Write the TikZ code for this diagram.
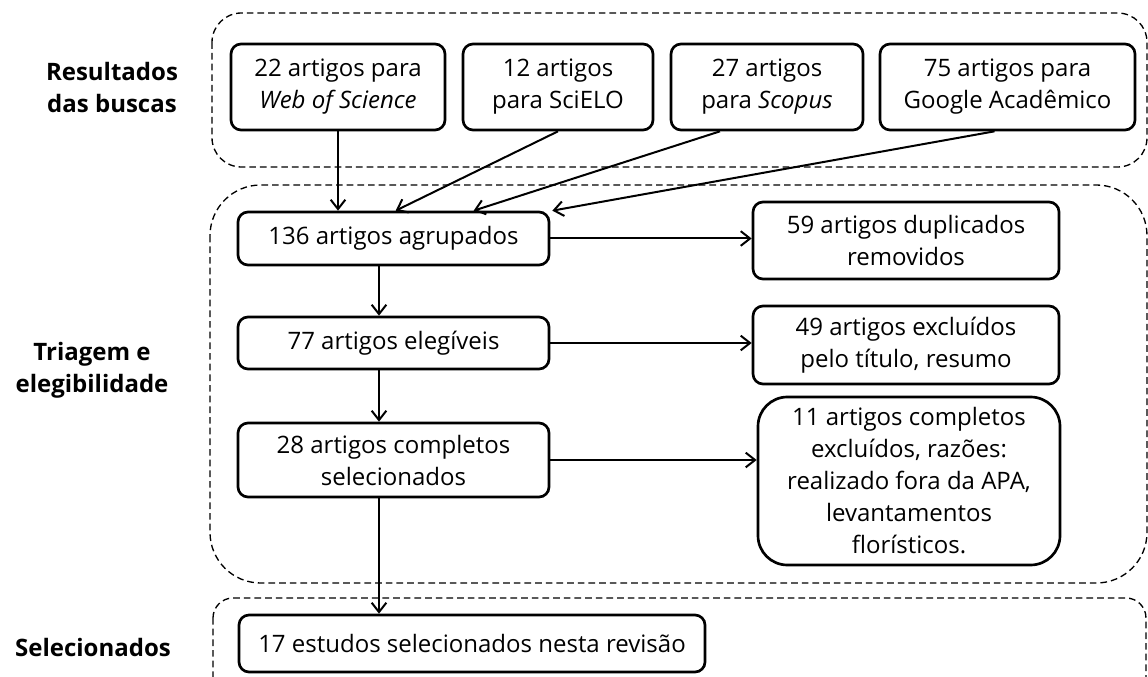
\documentclass[tikz,border=0pt]{standalone}
\usepackage{fontspec}
\setmainfont{Open Sans}
\usetikzlibrary{arrows.meta,calc}
\begin{document}
\begin{tikzpicture}[x=0.75pt,y=-0.75pt,
  every node/.style={font=\fontsize{18}{24}\selectfont},
  box/.style={draw=black,line width=2pt,rounded corners=7.5pt,align=center,inner sep=0pt},
  region/.style={draw=black,line width=1pt,dash pattern=on 5pt off 3pt},
  lbl/.style={align=center,font=\fontsize{18}{24}\selectfont\bfseries},
  arr/.style={line width=1.5pt,-{Straight Barb[length=7pt,width=11pt,line width=1.5pt]}}]
\clip (0,0) rectangle (1148,677);
\fill[white] (0,0) rectangle (1148,677);
% regions
\draw[region,rounded corners=22pt] (212,13) rectangle (1147,167);
\draw[region,rounded corners=38pt] (210,185) rectangle (1147,583);
\draw[region,rounded corners=15pt] (213,598) rectangle (1146,720);
% labels
\node[lbl] (l1) at (112,88) {Resultados\\das buscas};
\node[lbl] (l2) at (92,370) {Triagem e\\elegibilidade};
\node[lbl] (l3) at (93,647) {Selecionados};
% top boxes
\node[box,minimum width=160.5pt,minimum height=64.5pt] (b1) at (338,87) {22 artigos para\\\textit{Web of Science}};
\node[box,minimum width=142.5pt,minimum height=64.5pt] (b2) at (558,87) {12 artigos\\para SciELO};
\node[box,minimum width=144pt,minimum height=64.5pt] (b3) at (767,87) {27 artigos\\para \textit{Scopus}};
\node[box,minimum width=191.25pt,minimum height=64.5pt] (b4) at (1007.5,87) {75 artigos para\\Google Acadêmico};
% middle
\node[box,minimum width=233.25pt,minimum height=39.75pt] (g) at (393.5,238.5) {136 artigos agrupados};
\node[box,minimum width=233.25pt,minimum height=39pt] (e) at (393.5,343) {77 artigos elegíveis};
\node[box,minimum width=233.25pt,minimum height=55.5pt] (c) at (393.5,460) {28 artigos completos\\selecionados};
\node[box,minimum width=229.5pt,minimum height=57.75pt] (d) at (906,240.5) {59 artigos duplicados\\removidos};
\node[box,minimum width=229.5pt,minimum height=58.5pt] (x) at (906,345) {49 artigos excluídos\\pelo título, resumo};
\node[box,rounded corners=22pt,minimum width=226.5pt,minimum height=126pt] (r) at (909,481) {11 artigos completos\\excluídos, razões:\\realizado fora da APA,\\levantamentos\\florísticos.};
\node[box,minimum width=349.5pt,minimum height=42.75pt] (s) at (472,643.5) {17 estudos selecionados nesta revisão};
% connectors
\coordinate (vx) at (379,0);
\draw[arr] (b1.south) -- (b1.south |- g.north);
\draw[arr] (b2.south) -- ($(g.north west)+(159,0)$);
\draw[arr] ($(b3.south)+(-47,0)$) -- ($(g.north west)+(237,0)$);
\draw[arr] ($(b4.south)+(-13,0)$) -- ($(g.north east)+(2,0)$);
\draw[arr] (g.east) -- (g.east -| d.west);
\draw[arr] (e.east) -- (e.east -| x.west);
\draw[arr] (c.east) -- (c.east -| r.west);
\draw[arr] (g.south -| vx) -- (e.north -| vx);
\draw[arr] (e.south -| vx) -- (c.north -| vx);
\draw[arr] (c.south -| vx) -- (s.north -| vx);
\end{tikzpicture}
\end{document}
